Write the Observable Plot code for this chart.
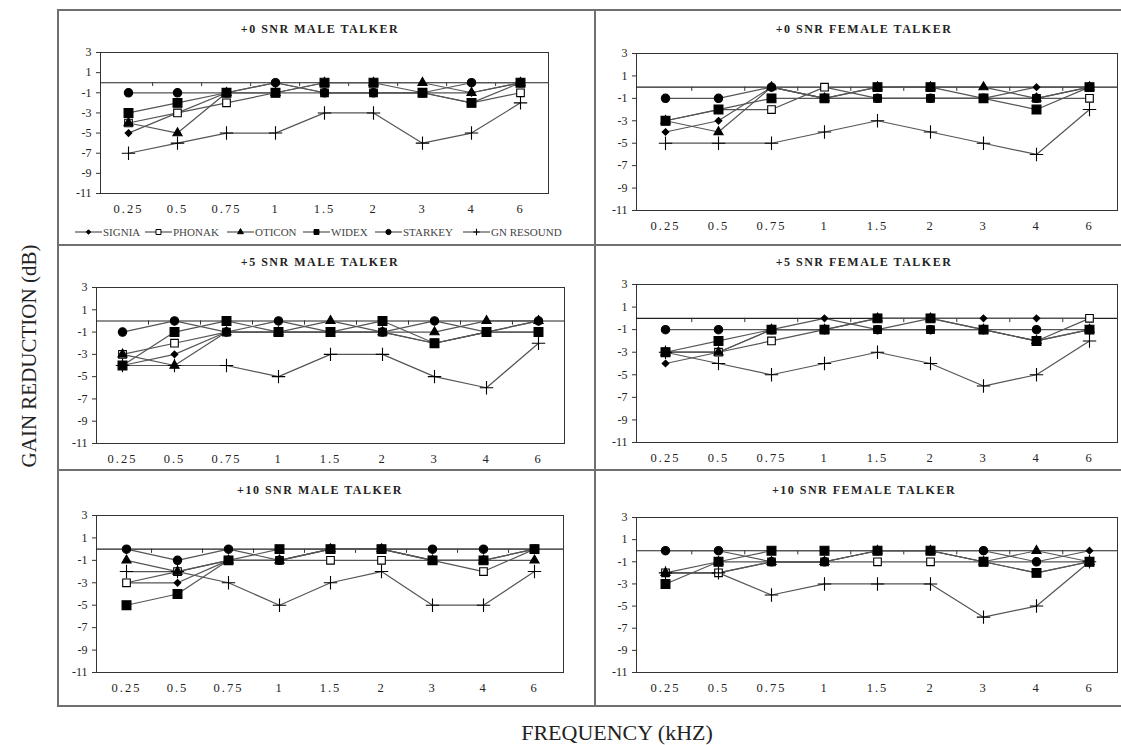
<!DOCTYPE html>
<html><head><meta charset="utf-8">
<script src="https://cdn.jsdelivr.net/npm/d3@7"></script>
<script src="https://cdn.jsdelivr.net/npm/@observablehq/plot@0.6"></script>
<style>
body{margin:0;background:#fff;}
#root{position:relative;width:1121px;height:745px;overflow:hidden;font-family:"Liberation Serif","Times New Roman",serif;}
.bline{position:absolute;background:#707070;}
.ptitle{position:absolute;font-weight:bold;font-size:12px;letter-spacing:1.5px;color:#222;transform:translate(-50%,-50%);white-space:nowrap;}
.axt{position:absolute;color:#222;white-space:nowrap;transform:translate(-50%,-50%);}
svg.panel{position:absolute;overflow:visible;}
</style></head><body><div id="root"></div>
<script>
// ---------- DATA ----------
const freqs = ["0.25","0.5","0.75","1","1.5","2","3","4","6"];
const brands = ["SIGNIA","PHONAK","OTICON","WIDEX","STARKEY","GN RESOUND"];
const titles = ["+0 SNR MALE TALKER","+0 SNR FEMALE TALKER","+5 SNR MALE TALKER","+5 SNR FEMALE TALKER","+10 SNR MALE TALKER","+10 SNR FEMALE TALKER"];
const yTicks = [3,1,-1,-3,-5,-7,-9,-11];
const yTitle = "GAIN REDUCTION (dB)";
const xTitle = "FREQUENCY (kHZ)";
// rows follow brands order: SIGNIA, PHONAK, OTICON, WIDEX, STARKEY, GN RESOUND
const snr0Male = [
  [-5,-3,-1, 0,-1,-1,-1,-1, 0],
  [-4,-3,-2,-1,-1,-1,-1,-2,-1],
  [-4,-5,-1,-1, 0, 0, 0,-1, 0],
  [-3,-2,-1,-1, 0, 0,-1,-2, 0],
  [-1,-1,-1, 0,-1,-1,-1, 0, 0],
  [-7,-6,-5,-5,-3,-3,-6,-5,-2]
];
const snr0Female = [
  [-4,-3, 0,-1,-1,-1,-1, 0, 0],
  [-3,-2,-2, 0,-1,-1,-1,-1,-1],
  [-3,-4, 0,-1, 0, 0, 0,-1, 0],
  [-3,-2,-1,-1, 0, 0,-1,-2, 0],
  [-1,-1, 0,-1,-1,-1,-1,-1, 0],
  [-5,-5,-5,-4,-3,-4,-5,-6,-2]
];
const snr5Male = [
  [-4,-3,-1,-1,-1,-1,-2,-1, 0],
  [-3,-2,-1,-1,-1,-1,-2,-1,-1],
  [-3,-4,-1,-1, 0,-1,-1, 0, 0],
  [-4,-1, 0,-1,-1, 0,-2,-1,-1],
  [-1, 0,-1, 0,-1,-1, 0,-1, 0],
  [-4,-4,-4,-5,-3,-3,-5,-6,-2]
];
const snr5Female = [
  [-4,-3,-1, 0,-1, 0, 0, 0, 0],
  [-3,-3,-2,-1,-1,-1,-1,-2, 0],
  [-3,-3,-1,-1, 0, 0,-1,-2,-1],
  [-3,-2,-1,-1, 0, 0,-1,-2,-1],
  [-1,-1,-1,-1,-1,-1,-1,-1,-1],
  [-3,-4,-5,-4,-3,-4,-6,-5,-2]
];
const snr10Male = [
  [-3,-3,-1,-1, 0, 0,-1,-1, 0],
  [-3,-2,-1,-1,-1,-1,-1,-2, 0],
  [-1,-2,-1,-1, 0, 0,-1,-1,-1],
  [-5,-4,-1, 0, 0, 0,-1,-1, 0],
  [ 0,-1, 0,-1, 0, 0, 0, 0, 0],
  [-2,-2,-3,-5,-3,-2,-5,-5,-2]
];
const snr10Female = [
  [-2,-2,-1,-1, 0, 0,-1,-1, 0],
  [-2,-2,-1,-1,-1,-1,-1,-2,-1],
  [-2,-1,-1,-1, 0, 0,-1, 0,-1],
  [-3,-1, 0, 0, 0, 0,-1,-2,-1],
  [ 0, 0,-1,-1, 0, 0, 0,-1,-1],
  [-2,-2,-4,-3,-3,-3,-6,-5,-1]
];
const panels = [snr0Male, snr0Female, snr5Male, snr5Female, snr10Male, snr10Female];

// ---------- STYLE / LAYOUT ----------
const markers = {
  "SIGNIA":     {symbol:"diamond2", r:3.0, lr:2.0, fill:"#000", stroke:"#000", d3s:d3.symbolDiamond2},
  "PHONAK":     {symbol:"square",   r:4.3, lr:2.8, fill:"#fff", stroke:"#000", d3s:d3.symbolSquare},
  "OTICON":     {symbol:"triangle", r:3.4, lr:2.2, fill:"#000", stroke:"#000", d3s:d3.symbolTriangle},
  "WIDEX":      {symbol:"square",   r:5.0, lr:2.8, fill:"#000", stroke:"#000", d3s:d3.symbolSquare},
  "STARKEY":    {symbol:"circle",   r:4.2, lr:2.6, fill:"#000", stroke:"#000", d3s:d3.symbolCircle},
  "GN RESOUND": {symbol:"plus",     r:4.4, lr:3.2, fill:"none", stroke:"#000", d3s:null}
};
const layout = [
  {cx:58,  cy:10,  w:537, h:235, fl:100, fr:548,  ft:52,  fb:193, tx:320, ty:29},
  {cx:595, cy:10,  w:526, h:235, fl:636, fr:1117, ft:53,  fb:210, tx:864, ty:29},
  {cx:58,  cy:245, w:537, h:225, fl:96,  fr:564,  ft:287, fb:443, tx:320, ty:262},
  {cx:595, cy:245, w:526, h:225, fl:636, fr:1117, ft:284, fb:442, tx:864, ty:262},
  {cx:58,  cy:470, w:537, h:236, fl:96,  fr:563,  ft:515, fb:672, tx:320, ty:490},
  {cx:595, cy:470, w:526, h:236, fl:636, fr:1117, ft:517, fb:672, tx:864, ty:490}
];

const root = document.getElementById("root");
function addLine(x,y,w,h){const d=document.createElement("div");d.className="bline";Object.assign(d.style,{left:x+"px",top:y+"px",width:w+"px",height:h+"px"});root.appendChild(d);}
addLine(57,9,1070,2);
addLine(57,705,1070,2);
addLine(57,9,2,698);
addLine(594,9,2,698);
addLine(57,244,1070,2);
addLine(57,469,1070,2);

panels.forEach((mat, p) => {
  const L = layout[p];
  const rows = brands.flatMap((b,i) => freqs.map((f,j) => ({brand:b, freq:f, value:mat[i][j]})));
  const mL = L.fl - L.cx, mR = (L.cx + L.w) - L.fr, mT = L.ft - L.cy, mB = (L.cy + L.h) - L.fb;
  const step = (L.fr - L.fl) / freqs.length;
  const marks = [
    Plot.frame({stroke:"#333", strokeWidth:1}),
    Plot.ruleY([0], {stroke:"#222", strokeWidth:1.1}),
    Plot.ruleX(freqs.slice(1), {x:d=>d, y1:0, y2:-0.38, dx:-step/2, stroke:"#333", strokeWidth:1}),
    Plot.axisY({ticks:yTicks, tickFormat:d=>String(d), tickSize:4, tickPadding:5, label:null, stroke:"#333"}),
    Plot.axisX({tickSize:0, tickPadding:11, label:null})
  ];
  brands.forEach(b => {
    marks.push(Plot.line(rows.filter(r=>r.brand===b), {x:"freq", y:"value", stroke:"#555", strokeWidth:1.2}));
  });
  brands.forEach(b => {
    const m = markers[b];
    marks.push(Plot.dot(rows.filter(r=>r.brand===b), {x:"freq", y:"value", symbol:m.symbol, r:m.r, fill:m.fill, stroke:m.stroke, strokeWidth:1.1}));
  });
  const svg = Plot.plot({
    width:L.w, height:L.h, marginLeft:mL, marginRight:mR, marginTop:mT, marginBottom:mB,
    style:{fontFamily:'"Liberation Serif","Times New Roman",serif', background:"transparent", color:"#222"},
    x:{type:"point", domain:freqs, padding:0.5},
    y:{domain:[-11,3]},
    marks
  });
  svg.classList.add("panel");
  svg.style.left = L.cx + "px";
  svg.style.top = L.cy + "px";
  svg.querySelectorAll('[aria-label="x-axis tick label"] text').forEach(t => { t.style.letterSpacing = "2px"; t.style.fontSize = "12.5px"; });
  svg.querySelectorAll('[aria-label="y-axis tick label"] text').forEach(t => { t.style.fontSize = "12px"; });
  root.appendChild(svg);
  const t = document.createElement("div");
  t.className = "ptitle"; t.textContent = titles[p];
  t.style.left = L.tx + "px"; t.style.top = L.ty + "px";
  root.appendChild(t);
});

// legend (first panel)
const legX = [75,145,227,303,375,463];
const leg = d3.select(root).append("svg").attr("class","panel")
  .style("left","0px").style("top","221px").attr("width",600).attr("height",24);
brands.forEach((b,i) => {
  const m = markers[b], x0 = legX[i], y = 11, cxm = x0 + 13.5;
  leg.append("line").attr("x1",x0).attr("x2",x0+27).attr("y1",y).attr("y2",y).attr("stroke","#555").attr("stroke-width",1.2);
  if (m.d3s) {
    leg.append("path").attr("transform",`translate(${cxm},${y})`)
      .attr("d", d3.symbol(m.d3s, Math.PI*m.lr*m.lr)())
      .attr("fill", m.fill).attr("stroke", m.stroke).attr("stroke-width",1);
  } else {
    leg.append("path").attr("d",`M${cxm-m.lr},${y}H${cxm+m.lr}M${cxm},${y-m.lr}V${y+m.lr}`).attr("stroke","#000").attr("stroke-width",1.1);
  }
  leg.append("text").attr("x",x0+28).attr("y",y).attr("dy","0.35em")
    .attr("font-size",11).attr("fill","#444").attr("font-family",'"Liberation Serif",serif').text(b);
});

// axis titles
const yt = document.createElement("div");
yt.className="axt"; yt.textContent=yTitle;
Object.assign(yt.style,{left:"29px",top:"356px",fontSize:"21px",transform:"translate(-50%,-50%) rotate(-90deg)"});
root.appendChild(yt);
const xt = document.createElement("div");
xt.className="axt"; xt.textContent=xTitle;
Object.assign(xt.style,{left:"617px",top:"733px",fontSize:"22px"});
root.appendChild(xt);
</script></body></html>
